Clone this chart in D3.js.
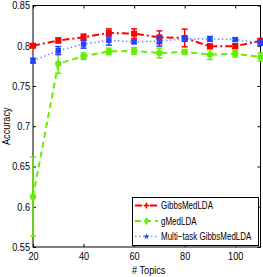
<!DOCTYPE html>
<html>
<head>
<meta charset="utf-8">
<script src="https://cdn.jsdelivr.net/npm/d3@7"></script>
<style>
  body { margin: 0; background: #fff; }
  text { font-family: "Liberation Sans", Arial, sans-serif; }
</style>
</head>
<body>
<div id="chart"></div>
<script>
// data
var topics = [20, 30, 40, 50, 60, 70, 80, 90, 100, 110];

var gibbsMean = [0.800, 0.8066, 0.8105, 0.8160, 0.8150, 0.8105, 0.8097, 0.7992, 0.7995, 0.8060];
var gibbsErr  = [0.002, 0.003, 0.004, 0.005, 0.006, 0.008, 0.011, 0.003, 0.003, 0.003];

var gMean = [0.6125, 0.7778, 0.787, 0.793, 0.7935, 0.791, 0.7923, 0.789, 0.790, 0.786];
var gErr  = [0.049, 0.012, 0.004, 0.004, 0.004, 0.006, 0.003, 0.006, 0.004, 0.005];

var multiMean = [0.7815, 0.794, 0.802, 0.8068, 0.8048, 0.8056, 0.8085, 0.8085, 0.8077, 0.8035];
var multiErr  = [0.003, 0.005, 0.005, 0.006, 0.002, 0.006, 0.003, 0.003, 0.002, 0.003];

var xTicks = [20, 40, 60, 80, 100];
var yTicks = [0.55, 0.6, 0.65, 0.7, 0.75, 0.8, 0.85];

var series = [
  { name: "GibbsMedLDA", mean: gibbsMean, err: gibbsErr, color: "#ff0000", dash: "7,3,2,3", width: 2, marker: "plus" },
  { name: "gMedLDA", mean: gMean, err: gErr, color: "#66ee00", dash: "6,4", width: 2, marker: "diamond" },
  { name: "Multi\u2212task GibbsMedLDA", mean: multiMean, err: multiErr, color: "#2244ff", dash: "1.5,2.5", width: 1.6, marker: "star" }
];

var W = 263, H = 277;
var margin = { top: 5.5, right: 2.5, bottom: 30, left: 33 };

var svg = d3.select("#chart").append("svg")
  .attr("width", W).attr("height", H);

var x = d3.scaleLinear().domain([20, 110]).range([margin.left, W - margin.right]);
var y = d3.scaleLinear().domain([0.55, 0.85]).range([H - margin.bottom, margin.top]);

// the figure's font is narrower than Liberation Sans
function condense(k) {
  return function(sel) {
    sel.each(function() {
      var w = this.getComputedTextLength();
      if (w > 0) d3.select(this).attr("textLength", w * k).attr("lengthAdjust", "spacingAndGlyphs");
    });
  };
}

var g = svg.append("g");

// axes, MATLAB style with inward ticks on all sides
var axBottom = g.append("g").attr("transform", `translate(0,${y(0.55)})`)
  .call(d3.axisBottom(x).tickValues(xTicks).tickSize(-3).tickPadding(6).tickFormat(d3.format("d")));
var axTop = g.append("g").attr("transform", `translate(0,${y(0.85)})`)
  .call(d3.axisTop(x).tickValues(xTicks).tickSize(-3).tickFormat(""));
var axLeft = g.append("g").attr("transform", `translate(${x(20)},0)`)
  .call(d3.axisLeft(y).tickValues(yTicks).tickSize(-3).tickPadding(3).tickFormat(function(d) { return String(+d.toFixed(2)); }));
var axRight = g.append("g").attr("transform", `translate(${x(110)},0)`)
  .call(d3.axisRight(y).tickValues(yTicks).tickSize(-3).tickFormat(""));

[axBottom, axTop, axLeft, axRight].forEach(function(a) {
  a.selectAll(".tick line").attr("stroke", "#000");
  a.selectAll("text").attr("font-size", 10.5).attr("fill", "#000")
    .style("font-family", "'Liberation Sans', Arial, sans-serif")
    .call(condense(0.87));
});
g.selectAll(".domain").remove();
g.append("rect")
  .attr("x", x(20)).attr("y", y(0.85))
  .attr("width", x(110) - x(20)).attr("height", y(0.55) - y(0.85))
  .attr("fill", "none").attr("stroke", "#000").attr("stroke-width", 1);

function drawMarker(sel, type, color, cx, cy) {
  if (type === "plus") {
    sel.append("rect").attr("x", cx - 3).attr("y", cy - 3).attr("width", 6).attr("height", 6).attr("fill", color);
  } else if (type === "diamond") {
    sel.append("circle").attr("cx", cx).attr("cy", cy).attr("r", 3.2).attr("fill", color);
  } else {
    sel.append("rect").attr("x", cx - 2.7).attr("y", cy - 2.7).attr("width", 5.4).attr("height", 5.4).attr("fill", color);
  }
}

var plot = svg.append("g");
series.forEach(function(s) {
  var pts = topics.map(function(t, i) { return { t: t, m: s.mean[i], e: s.err[i] }; });
  var line = d3.line().x(function(d) { return x(d.t); }).y(function(d) { return y(d.m); });
  var grp = plot.append("g");
  grp.append("path").datum(pts)
    .attr("d", line)
    .attr("fill", "none")
    .attr("stroke", s.color)
    .attr("stroke-opacity", s.marker === "star" ? 0.6 : 1)
    .attr("stroke-width", s.width)
    .attr("stroke-dasharray", s.dash);
  pts.forEach(function(d) {
    var cx = x(d.t);
    grp.append("line").attr("x1", cx).attr("x2", cx)
      .attr("y1", y(d.m - d.e)).attr("y2", y(d.m + d.e))
      .attr("stroke", s.color).attr("stroke-width", 1.5);
    [d.m - d.e, d.m + d.e].forEach(function(v) {
      grp.append("line").attr("x1", cx - 3).attr("x2", cx + 3)
        .attr("y1", y(v)).attr("y2", y(v))
        .attr("stroke", s.color).attr("stroke-width", 1.5);
    });
    drawMarker(grp, s.marker, s.color, cx, y(d.m));
  });
});

// axis labels
svg.append("text")
  .attr("transform", `translate(10,${(y(0.55) + y(0.85)) / 2}) rotate(-90)`)
  .attr("text-anchor", "middle")
  .attr("font-size", 10.5)
  .text("Accuracy")
  .call(condense(0.87));
svg.append("text")
  .attr("x", (x(20) + x(110)) / 2 + 2).attr("y", 274)
  .attr("text-anchor", "middle")
  .attr("font-size", 10.5)
  .text("# Topics")
  .call(condense(0.87));

// legend
var lg = svg.append("g");
lg.append("rect").attr("x", 132.5).attr("y", 197.5).attr("width", 126).attr("height", 48)
  .attr("fill", "#fff").attr("stroke", "#000").attr("stroke-width", 1);
series.forEach(function(s, i) {
  var ly = 205.5 + i * 15.5;
  lg.append("line").attr("x1", 135).attr("x2", 158).attr("y1", ly).attr("y2", ly)
    .attr("stroke", s.color).attr("stroke-width", s.width)
    .attr("stroke-opacity", s.marker === "star" ? 0.6 : 1)
    .attr("stroke-dasharray", s.dash);
  if (s.marker === "plus") {
    lg.append("path").attr("d", `M${146.5 - 3},${ly}H${146.5 + 3}M146.5,${ly - 3}V${ly + 3}`)
      .attr("stroke", s.color).attr("stroke-width", 1.5);
  } else if (s.marker === "diamond") {
    lg.append("path").attr("d", d3.symbol(d3.symbolDiamond, 22)()).attr("transform", `translate(146.5,${ly})`)
      .attr("fill", s.color);
  } else {
    lg.append("path").attr("d", d3.symbol(d3.symbolStar, 12)()).attr("transform", `translate(146.5,${ly})`)
      .attr("fill", s.color);
  }
  lg.append("text")
    .attr("transform", `translate(161,${ly + 3.6}) scale(0.8,1)`)
    .attr("font-size", 10)
    .text(s.name);
});
</script>
</body>
</html>
